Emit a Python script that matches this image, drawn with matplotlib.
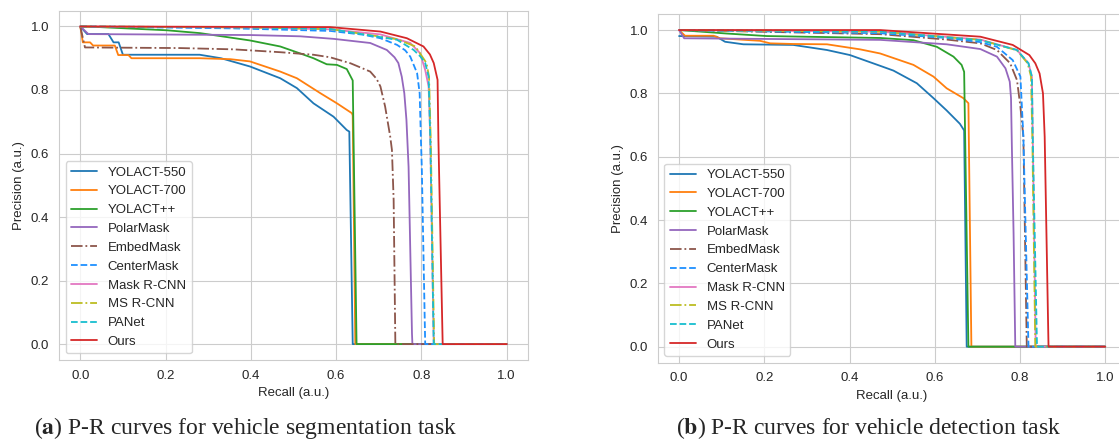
import numpy as np
import matplotlib
matplotlib.use("Agg")
import matplotlib.pyplot as plt
import seaborn as sns

sns.set_style("whitegrid")
plt.rcParams['font.family'] = ['Liberation Sans', 'DejaVu Sans']
plt.rcParams['mathtext.fontset'] = 'stix'

labels = ["YOLACT-550", "YOLACT-700", "YOLACT++", "PolarMask", "EmbedMask",
          "CenterMask", "Mask R-CNN", "MS R-CNN", "PANet", "Ours"]
colors = ["#1f77b4", "#ff7f0e", "#2ca02c", "#9467bd", "#8c564b",
          "#1e90ff", "#e377c2", "#bcbd22", "#17becf", "#d62728"]
styles = ["-", "-", "-", "-", "-.", "--", "-", "-.", "--", "-"]

# (recall, precision)
seg_yolact550 = [(0, 1.0), (0.016, 0.976), (0.066, 0.976), (0.078, 0.95), (0.09, 0.95),
                 (0.1, 0.911), (0.28, 0.911), (0.33, 0.90), (0.398, 0.874), (0.469, 0.837),
                 (0.508, 0.806), (0.547, 0.758), (0.594, 0.716), (0.625, 0.674),
                 (0.631, 0.669), (0.639, 0.0), (1.0, 0.0)]
seg_yolact700 = [(0, 1.0), (0.006, 0.95), (0.023, 0.95), (0.03, 0.94), (0.081, 0.94),
                 (0.089, 0.91), (0.113, 0.91), (0.12, 0.90), (0.28, 0.90), (0.352, 0.897),
                 (0.398, 0.89), (0.469, 0.858), (0.508, 0.837), (0.563, 0.79), (0.602, 0.758),
                 (0.637, 0.727), (0.639, 0.72), (0.645, 0.0), (1.0, 0.0)]
seg_yolactpp = [(0, 1.0), (0.046, 0.998), (0.203, 0.988), (0.281, 0.979), (0.398, 0.956),
                (0.469, 0.937), (0.516, 0.915), (0.547, 0.9), (0.578, 0.881), (0.602, 0.879),
                (0.625, 0.866), (0.639, 0.83), (0.648, 0.0), (1.0, 0.0)]
seg_polarmask = [(0, 1.0), (0.019, 0.976), (0.4, 0.973), (0.516, 0.969), (0.594, 0.961),
                 (0.68, 0.948), (0.719, 0.926), (0.737, 0.903), (0.746, 0.885), (0.754, 0.842),
                 (0.76, 0.79), (0.765, 0.706), (0.77, 0.558), (0.778, 0.033), (0.779, 0.0),
                 (1.0, 0.0)]
seg_embedmask = [(0, 1.0), (0.011, 0.934), (0.234, 0.932), (0.359, 0.928), (0.469, 0.919),
                 (0.547, 0.911), (0.586, 0.903), (0.634, 0.884), (0.68, 0.858), (0.695, 0.835),
                 (0.704, 0.811), (0.715, 0.748), (0.727, 0.653), (0.731, 0.611),
                 (0.735, 0.453), (0.739, 0.0), (1.0, 0.0)]
seg_centermask = [(0, 1.0), (0.359, 0.994), (0.586, 0.986), (0.664, 0.974), (0.704, 0.963),
                  (0.743, 0.942), (0.762, 0.925), (0.774, 0.905), (0.79, 0.853), (0.796, 0.79),
                  (0.799, 0.643), (0.801, 0.558), (0.809, 0.0), (1.0, 0.0)]
seg_maskrcnn = [(0, 1.0), (0.4, 0.997), (0.586, 0.991), (0.704, 0.975), (0.774, 0.948),
                (0.797, 0.916), (0.809, 0.863), (0.817, 0.811), (0.821, 0.643),
                (0.829, 0.0), (1.0, 0.0)]
seg_msrcnn = [(0, 1.0), (0.4, 0.997), (0.586, 0.992), (0.743, 0.96), (0.786, 0.937),
              (0.812, 0.885), (0.818, 0.842), (0.822, 0.643), (0.83, 0.0), (1.0, 0.0)]
seg_panet = [(0, 1.0), (0.4, 0.997), (0.586, 0.992), (0.743, 0.958), (0.782, 0.926),
             (0.798, 0.905), (0.809, 0.885), (0.817, 0.842), (0.821, 0.643),
             (0.829, 0.0), (1.0, 0.0)]
seg_ours = [(0, 1.0), (0.586, 0.998), (0.704, 0.984), (0.766, 0.963), (0.805, 0.937),
            (0.82, 0.912), (0.829, 0.885), (0.838, 0.832), (0.84, 0.643), (0.85, 0.0),
            (1.0, 0.0)]

# (recall, precision)
det_yolact550 = [(0, 0.981), (0.088, 0.979), (0.108, 0.963), (0.151, 0.955), (0.268, 0.953),
                 (0.347, 0.937), (0.401, 0.921), (0.472, 0.887), (0.503, 0.872),
                 (0.558, 0.832), (0.597, 0.785), (0.628, 0.746), (0.659, 0.704),
                 (0.669, 0.683), (0.675, 0.0), (1.0, 0.0)]
det_yolact700 = [(0, 1.0), (0.014, 0.982), (0.081, 0.982), (0.096, 0.974), (0.19, 0.966),
                 (0.214, 0.958), (0.268, 0.956), (0.347, 0.955), (0.425, 0.939),
                 (0.472, 0.926), (0.55, 0.89), (0.597, 0.853), (0.628, 0.816),
                 (0.667, 0.785), (0.679, 0.769), (0.686, 0.0), (1.0, 0.0)]
det_yolactpp = [(0, 1.0), (0.112, 0.989), (0.206, 0.981), (0.472, 0.975), (0.55, 0.968),
                (0.605, 0.947), (0.644, 0.916), (0.663, 0.89), (0.669, 0.868),
                (0.679, 0.0), (1.0, 0.0)]
det_polarmask = [(0, 1.0), (0.012, 0.974), (0.472, 0.969), (0.628, 0.955), (0.707, 0.94),
                 (0.746, 0.916), (0.766, 0.879), (0.776, 0.837), (0.779, 0.785),
                 (0.781, 0.632), (0.785, 0.358), (0.789, 0.0), (1.0, 0.0)]
det_embedmask = [(0, 1.0), (0.472, 0.987), (0.628, 0.97), (0.707, 0.958), (0.746, 0.937),
                 (0.777, 0.895), (0.793, 0.842), (0.801, 0.758), (0.808, 0.663),
                 (0.816, 0.0), (1.0, 0.0)]
det_centermask = [(0, 1.0), (0.472, 0.99), (0.628, 0.975), (0.707, 0.962), (0.746, 0.947),
                  (0.783, 0.905), (0.801, 0.853), (0.808, 0.663), (0.82, 0.0), (1.0, 0.0)]
det_maskrcnn = [(0, 1.0), (0.472, 0.995), (0.707, 0.97), (0.793, 0.937), (0.82, 0.895),
                (0.828, 0.853), (0.83, 0.663), (0.837, 0.0), (1.0, 0.0)]
det_msrcnn = [(0, 1.0), (0.472, 0.995), (0.707, 0.969), (0.793, 0.936), (0.818, 0.895),
              (0.826, 0.853), (0.829, 0.663), (0.836, 0.0), (1.0, 0.0)]
det_panet = [(0, 1.0), (0.472, 0.995), (0.707, 0.968), (0.793, 0.937), (0.82, 0.895),
             (0.828, 0.853), (0.83, 0.663), (0.84, 0.0), (1.0, 0.0)]
det_ours = [(0, 1.0), (0.472, 1.0), (0.707, 0.979), (0.783, 0.953), (0.822, 0.921),
            (0.836, 0.895), (0.846, 0.863), (0.854, 0.8), (0.858, 0.663), (0.867, 0.0),
            (1.0, 0.0)]

seg_curves = [seg_yolact550, seg_yolact700, seg_yolactpp, seg_polarmask, seg_embedmask,
              seg_centermask, seg_maskrcnn, seg_msrcnn, seg_panet, seg_ours]
det_curves = [det_yolact550, det_yolact700, det_yolactpp, det_polarmask, det_embedmask,
              det_centermask, det_maskrcnn, det_msrcnn, det_panet, det_ours]

fig = plt.figure(figsize=(11.19, 4.43), dpi=100)
ax1 = fig.add_axes([0.0527, 0.1874, 0.4191, 0.7887])
ax2 = fig.add_axes([0.5878, 0.1817, 0.4189, 0.7862])

for ax, curves in [(ax1, seg_curves), (ax2, det_curves)]:
    for pts, lab, c, ls in zip(curves, labels, colors, styles):
        pts = np.array(pts)
        ax.plot(pts[:, 0], pts[:, 1], color=c, linestyle=ls, linewidth=1.3, label=lab)
    ax.set_xlim(-0.05, 1.05)
    ax.set_ylim(-0.05, 1.05)
    ax.set_xticks([0, 0.2, 0.4, 0.6, 0.8, 1.0])
    ax.set_yticks([0, 0.2, 0.4, 0.6, 0.8, 1.0])
    ax.tick_params(labelsize=9.5, colors='.15')
    ax.set_xlabel("Recall (a.u.)", fontsize=9.5, color='.15')
    ax.set_ylabel("Precision (a.u.)", fontsize=9.5, color='.15')
    ax.legend(loc='lower left', fontsize=9.5)

fig.text(0.219, 0.034, r"($\mathbf{a}$) P-R curves for vehicle segmentation task",
         ha='center', va='center', fontsize=17, family='Liberation Serif')
fig.text(0.776, 0.034, r"($\mathbf{b}$) P-R curves for vehicle detection task",
         ha='center', va='center', fontsize=17, family='Liberation Serif')

fig.savefig("out.png", dpi=100)
